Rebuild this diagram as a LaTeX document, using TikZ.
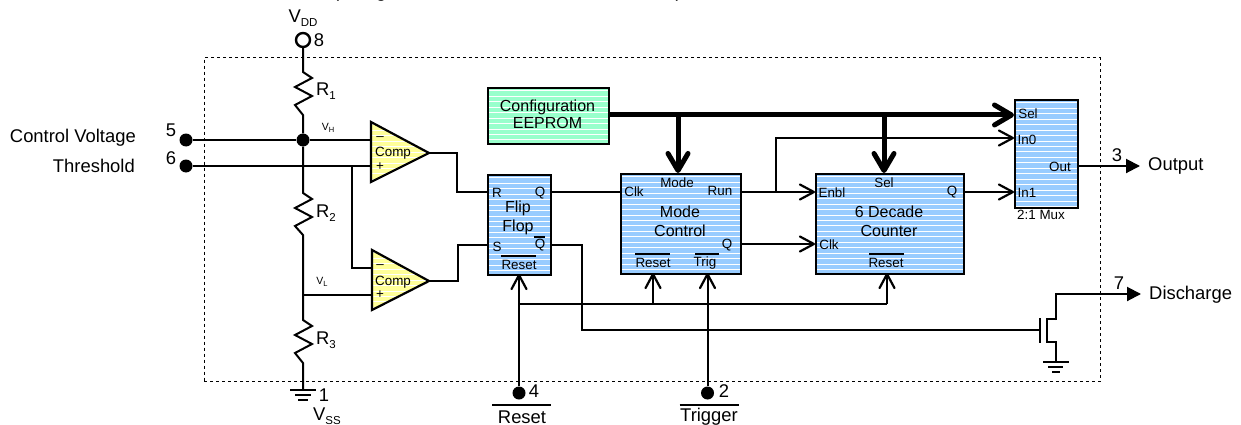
\documentclass[tikz,border=0pt]{standalone}
\usepackage{fontspec}
\setmainfont{Liberation Sans}
\usetikzlibrary{arrows.meta}
\definecolor{blk}{HTML}{99CCFF}
\definecolor{yel}{HTML}{FFFF99}
\definecolor{grn}{HTML}{99FFCC}
\newcommand{\fb}[1]{\fontsize{18.4}{20}\selectfont #1}
\newcommand{\fm}[1]{\fontsize{16}{18}\selectfont #1}
\newcommand{\fs}[1]{\fontsize{13.4}{15}\selectfont #1}
\newcommand{\ft}[1]{\fontsize{10.5}{12}\selectfont #1}
\newcommand{\sbs}[1]{\raisebox{-0.22em}{\fontsize{11.5}{12}\selectfont #1}}
\newcommand{\sbt}[1]{\raisebox{-0.18em}{\fontsize{7.5}{8}\selectfont #1}}
\tikzset{
  x=1pt,y=-1pt,
  stripes/.style={path picture={
    \foreach \yy in {0,5.45,...,140}{
      \draw[white,line width=0.8pt] ([yshift=-\yy pt-2.8pt]path picture bounding box.north west) -- ([yshift=-\yy pt-2.8pt]path picture bounding box.north east);}}},
  blockbox/.style={draw=black,line width=2pt,fill=blk,stripes,inner sep=0pt,minimum width=#1},
  wire/.style={line width=2pt,line join=miter},
  bus/.style={line width=5pt},
  barb/.style={-{Straight Barb[round,length=14pt,width=15pt,line width=2.2pt]}},
  bigbarb/.style={-{Straight Barb[round,length=17pt,width=20pt,line width=5pt]}},
  solidtip/.style={-{Triangle[length=14pt,width=14pt]}},
  pin/.style={circle,fill=black,inner sep=0pt,minimum size=13pt},
  txt/.style={inner sep=0pt,text=black},
  ovl/.style={line width=1.2pt},
}
\begin{document}
\begin{tikzpicture}
\useasboundingbox (0,0) rectangle (1241,425);
% outer package outline
\node[draw,dashed,line width=1.1pt,inner sep=0pt,anchor=north west,minimum width=896pt,minimum height=324pt] (pkg) at (203.5,57) {};
% heading: only the feet of these glyphs fall on the page
\node[txt,anchor=base west] (headl) at (333,-2.2) {\fb{(Using}};
\node[txt,anchor=base east] (headr) at (682,-2.2) {\fb{)}};

% blocks
\node[blockbox=63pt,minimum height=100pt,anchor=north west] (ff) at (487,174) {};
\node[blockbox=120pt,minimum height=100pt,anchor=north west] (mode) at (620,173) {};
\node[blockbox=148pt,minimum height=100pt,anchor=north west] (cnt) at (815,173) {};
\node[blockbox=63pt,minimum height=108pt,anchor=north west] (mux) at (1014,99) {};
\node[blockbox=121pt,minimum height=56pt,fill=grn,anchor=north west] (eep) at (487,87) {};

% comparators
\begin{scope}
\path[fill=yel,stripes] (371,122) -- (429,153) -- (371,182) -- cycle;
\draw[line width=2.2pt,line join=miter] (371,122) -- (429,153) -- (371,182) -- cycle;
\path[fill=yel,stripes] (372,250) -- (429,281) -- (372,310) -- cycle;
\draw[line width=2.2pt,line join=miter] (372,250) -- (429,281) -- (372,310) -- cycle;
\end{scope}
\coordinate (c1m) at (371,140); \coordinate (c1p) at (371,166); \coordinate (c1o) at (429,153);
\coordinate (c2m) at (372,268); \coordinate (c2p) at (372,295); \coordinate (c2o) at (429,281);

% pins
\node[circle,draw,line width=2.4pt,fill=white,inner sep=0pt,minimum size=14pt] (p8) at (303,40) {};
\node[pin] (p5) at (186,140) {};
\node[pin] (p6) at (186,166) {};
\node[pin] (p4) at (519,393) {};
\node[pin] (p2) at (707.5,393) {};
\node[circle,fill=black,inner sep=0pt,minimum size=13pt] (jh) at (303,140) {};

% divider
\coordinate (gtop) at (303,390);
\coordinate (jl) at (303,295);
\draw[wire] (p8) -- (303,72) -- (312,78) -- (295,87) -- (312,96) -- (295,105) -- (303,115) -- (jh);
\draw[wire] (jh) -- (303,193) -- (312,199) -- (295,208) -- (312,217) -- (295,226) -- (303,235) -- (jl);
\draw[wire] (jl) -- (303,320) -- (312,326) -- (295,335) -- (312,344) -- (295,353) -- (303,363) -- (gtop);
\draw[wire] (290,390) -- (316,390);
\draw[wire] (295,395) -- (311,395);
\draw[wire] (298,400) -- (308,400);

% comparator inputs
\draw[wire] (p5) -- (jh) -- (c1m);
\draw[wire] (p6) -- (c1p);
\draw[wire] (352,166) -- (352,268) -- (c2m);
\draw[wire] (jl) -- (c2p);
\draw[wire] (c1o) -- (457,153) -- (457,192) -- (ff.west|-0,192);
\draw[wire] (c2o) -- (458,281) -- (458,245) -- (ff.west|-0,245);

% block wires
\draw[wire] (ff.east|-0,192) -- (mode.west|-0,192);
\draw[wire,barb] (mode.east|-0,192) -- (cnt.west|-0,192);
\draw[wire] (775.5,192) -- (775.5,138) -- (900,138);
\draw[wire,barb] (900,138) -- (mux.west|-0,138);
\draw[wire,barb] (mode.east|-0,244) -- (cnt.west|-0,244);
\draw[wire,barb] (cnt.east|-0,192) -- (mux.west|-0,192);
\draw[wire,solidtip] (mux.east|-0,166) -- (1140,166) coordinate (outtip);
% bus
\draw[bus,bigbarb] (eep.east|-0,115) -- (mux.west|-0,115);
\draw[bus,bigbarb] (678,115) -- (678,173);
\draw[bus,bigbarb] (884,115) -- (884,173);
% resets
\draw[wire,barb] (p4) -- (519,274);
\draw[wire,barb] (p2) -- (707.5,273);
\draw[wire] (519,304) -- (887,304);
\draw[wire,barb] (653,304) -- (653,273);
\draw[wire,barb] (887,304) -- (887,273);
% discharge FET
\draw[wire] (ff.east|-0,245) -- (581.5,245) -- (581.5,330) -- (1040,330);
\draw[wire] (1040,318) -- (1040,343);
\draw[wire] (1047,319) -- (1056,319);
\draw[wire] (1047,342) -- (1056,342);
\draw[wire] (1047,318) -- (1047,343);
\draw[wire,solidtip] (1056,320) -- (1056,294) -- (1141,294);
\draw[wire] (1056,341) -- (1056,362);
\draw[wire] (1043,362) -- (1069,362);
\draw[wire] (1048,367) -- (1063,367);
\draw[wire] (1052,372) -- (1060,372);

% outer texts
\node[txt] (tvdd) at (303,18) {\fb{V\sbs{DD}}};
\node[txt] (t8) at (319,40) {\fb{8}};
\node[txt] (r1) at (326,91) {\fb{R\sbs{1}}};
\node[txt] (r2) at (326,213) {\fb{R\sbs{2}}};
\node[txt] (r3) at (326,340) {\fb{R\sbs{3}}};
\node[txt,anchor=east] (tcv) at (136,138) {\fb{Control Voltage}};
\node[txt,anchor=east] (tth) at (135,166) {\fb{Threshold}};
\node[txt] (t5) at (171,130) {\fb{5}};
\node[txt] (t6) at (171,158) {\fb{6}};
\node[txt] (t1) at (324,395) {\fb{1}};
\node[txt] (tvss) at (327,416) {\fb{V\sbs{SS}}};
\node[txt] (vh) at (328,128) {\ft{V\sbt{H}}};
\node[txt] (vl) at (322,282) {\ft{V\sbt{L}}};
\node[txt] (t4) at (534,391) {\fb{4}};
\node[txt] (t2) at (724,391) {\fb{2}};
\node[txt] (trs) at (522,417) {\fb{Reset}};
\node[txt] (ttr) at (709,417) {\fb{Trigger}};
\draw[ovl] (492,405) -- (551,405);
\draw[ovl] (679.5,405) -- (739,405);
\node[txt] (t3) at (1117,155) {\fb{3}};
\node[txt,anchor=west] (tout) at (1148,166) {\fb{Output}};
\node[txt] (t7) at (1119,283) {\fb{7}};
\node[txt,anchor=west] (tdis) at (1149,295) {\fb{Discharge}};

% comparator labels
\node[txt] (c1t) at (393,153) {\fs{Comp}};
\node[txt] (c2t) at (393,282) {\fs{Comp}};
\node[txt] (c1a) at (380,139) {\fs{–}};
\node[txt] (c1b) at (380,167) {\fs{+}};
\node[txt] (c2a) at (380,267) {\fs{–}};
\node[txt] (c2b) at (380,295) {\fs{+}};

% EEPROM
\node[txt,align=center] (eept) at (547.5,114.5) {\fm{Configuration}\\[1pt]\fm{EEPROM}};

% flip flop
\node[txt] (fr) at (497,193) {\fs{R}};
\node[txt] (fq) at (540,193) {\fs{Q}};
\node[txt] (ff1) at (518,208) {\fm{Flip}};
\node[txt] (ff2) at (518,227) {\fm{Flop}};
\node[txt] (fs) at (497,247) {\fs{S}};
\node[txt] (fqb) at (540,245) {\fs{Q}};
\draw[ovl] (534,237) -- (545,237);
\node[txt] (frs) at (519,265) {\fs{Reset}};
\draw[ovl] (501,256) -- (536,256);

% mode control
\node[txt] (mc) at (634,192) {\fs{Clk}};
\node[txt] (mm) at (677,183) {\fs{Mode}};
\node[txt] (mr) at (720,191) {\fs{Run}};
\node[txt] (m1) at (680,212) {\fm{Mode}};
\node[txt] (m2) at (680,231) {\fm{Control}};
\node[txt] (mq) at (727,245) {\fs{Q}};
\node[txt] (mrs) at (653,263) {\fs{Reset}};
\draw[ovl] (635,254) -- (670,254);
\node[txt] (mtr) at (705,263) {\fs{Trig}};
\draw[ovl] (695,254) -- (719,254);

% counter
\node[txt] (ce) at (832,193) {\fs{Enbl}};
\node[txt] (cc) at (829,245) {\fs{Clk}};
\node[txt] (cs) at (884,183) {\fs{Sel}};
\node[txt] (cq) at (952,192) {\fs{Q}};
\node[txt] (c1l) at (889,212) {\fm{6 Decade}};
\node[txt] (c2l) at (889,231) {\fm{Counter}};
\node[txt] (crs) at (886,263) {\fs{Reset}};
\draw[ovl] (869,254) -- (904,254);

% mux
\node[txt] (xs) at (1028,114) {\fs{Sel}};
\node[txt] (x0) at (1027,140) {\fs{In0}};
\node[txt] (xo) at (1060,167) {\fs{Out}};
\node[txt] (x1) at (1027,193) {\fs{In1}};
\node[txt] (xl) at (1041,215) {\fs{2:1 Mux}};
\end{tikzpicture}
\end{document}
